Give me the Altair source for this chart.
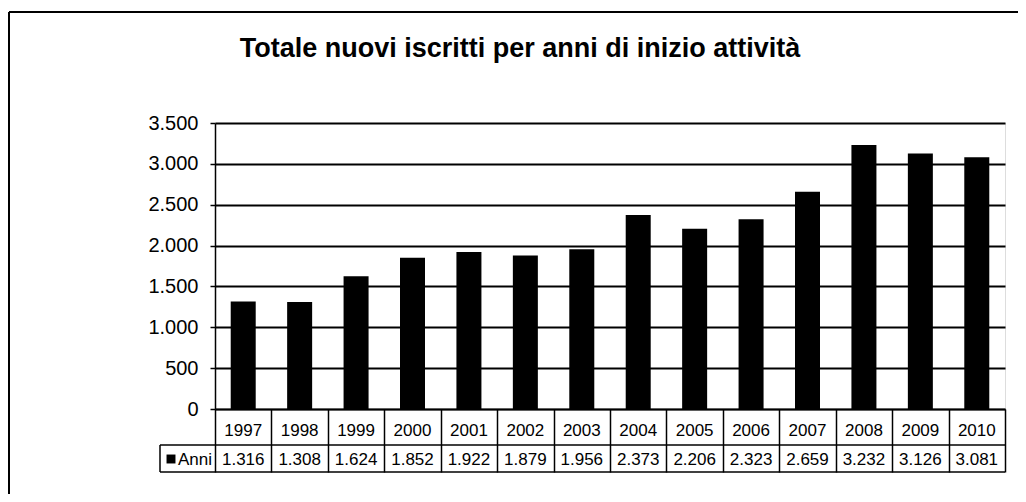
import altair as alt
import pandas as pd

title_text = "Totale nuovi iscritti per anni di inizio attività"
series_name = "Anni"
years = ["1997", "1998", "1999", "2000", "2001", "2002", "2003",
         "2004", "2005", "2006", "2007", "2008", "2009", "2010"]
values = [1316, 1308, 1624, 1852, 1922, 1879, 1956,
          2373, 2206, 2323, 2659, 3232, 3126, 3081]
y_ticks = [0, 500, 1000, 1500, 2000, 2500, 3000, 3500]

FONT = "Liberation Sans"
W, H = 790, 286

df = pd.DataFrame({"year": years, "value": values})
df_leg = pd.DataFrame({"series": [series_name], "title": [title_text]})

xenc = alt.X(
    "year:N",
    sort=years,
    scale=alt.Scale(paddingInner=0, paddingOuter=0),
    axis=alt.Axis(
        title=None, labels=False, tickBand="extent", tickSize=63,
        tickColor="black", tickWidth=1.5, domainColor="black", domainWidth=1.5,
        grid=False,
    ),
)

bars = alt.Chart(df).mark_bar(size=25, color="black").encode(
    x=xenc,
    y=alt.Y(
        "value:Q",
        scale=alt.Scale(domain=[0, 3500], nice=False),
        axis=alt.Axis(
            title=None, values=y_ticks,
            labelExpr="replace(format(datum.value, ','), ',', '.')",
            labelFont=FONT, labelFontSize=20, labelColor="black",
            labelPadding=12, tickSize=5, tickColor="black", tickWidth=1.5,
            domainColor="black", domainWidth=1.5,
            grid=True, gridColor="black", gridWidth=1.8,
        ),
    ),
)

year_text = alt.Chart(df).mark_text(
    font=FONT, fontSize=17, color="black", baseline="middle"
).encode(x=alt.X("year:N", sort=years), y=alt.value(H + 22), text="year:N")

val_text = alt.Chart(df).transform_calculate(
    label="replace(format(datum.value, ','), ',', '.')"
).mark_text(
    font=FONT, fontSize=17, color="black", baseline="middle"
).encode(x=alt.X("year:N", sort=years), y=alt.value(H + 51), text="label:N")

rule_style = dict(color="black", strokeWidth=1.5)
hline1 = alt.Chart(df_leg).mark_rule(**rule_style).encode(
    x=alt.value(-55), x2=alt.value(W), y=alt.value(H + 36))
hline2 = alt.Chart(df_leg).mark_rule(**rule_style).encode(
    x=alt.value(-55), x2=alt.value(W), y=alt.value(H + 63))
vline = alt.Chart(df_leg).mark_rule(**rule_style).encode(
    x=alt.value(-55), y=alt.value(H + 36), y2=alt.value(H + 63))

leg_sq = alt.Chart(df_leg).mark_square(size=80, color="black", opacity=1).encode(
    x=alt.value(-44), y=alt.value(H + 50))
leg_txt = alt.Chart(df_leg).mark_text(
    font=FONT, fontSize=17, color="black", align="left", baseline="middle"
).encode(x=alt.value(-37), y=alt.value(H + 51), text="series:N")

title_mark = alt.Chart(df_leg).mark_text(
    font=FONT, fontSize=27, fontWeight="bold", color="black",
    align="center", baseline="alphabetic",
).encode(x=alt.value(305), y=alt.value(-66), text="title:N")

# outer chart frame (top and left edges visible)
frame_top = alt.Chart(df_leg).mark_rule(color="black", strokeWidth=2).encode(
    x=alt.value(-206), x2=alt.value(W + 13), y=alt.value(-111))
frame_left = alt.Chart(df_leg).mark_rule(color="black", strokeWidth=2).encode(
    x=alt.value(-206), y=alt.value(-111), y2=alt.value(H + 85))

chart = alt.layer(
    bars, year_text, val_text, hline1, hline2, vline, leg_sq, leg_txt,
    title_mark, frame_top, frame_left,
).properties(
    width=W, height=H,
    autosize=alt.AutoSizeParams(type="none"),
    padding={"left": 207, "top": 115, "right": 13, "bottom": 85},
).configure_view(stroke="black", strokeWidth=1.5).configure(background="white")

chart.save("out.html", embed_options={"renderer": "svg", "actions": False})
